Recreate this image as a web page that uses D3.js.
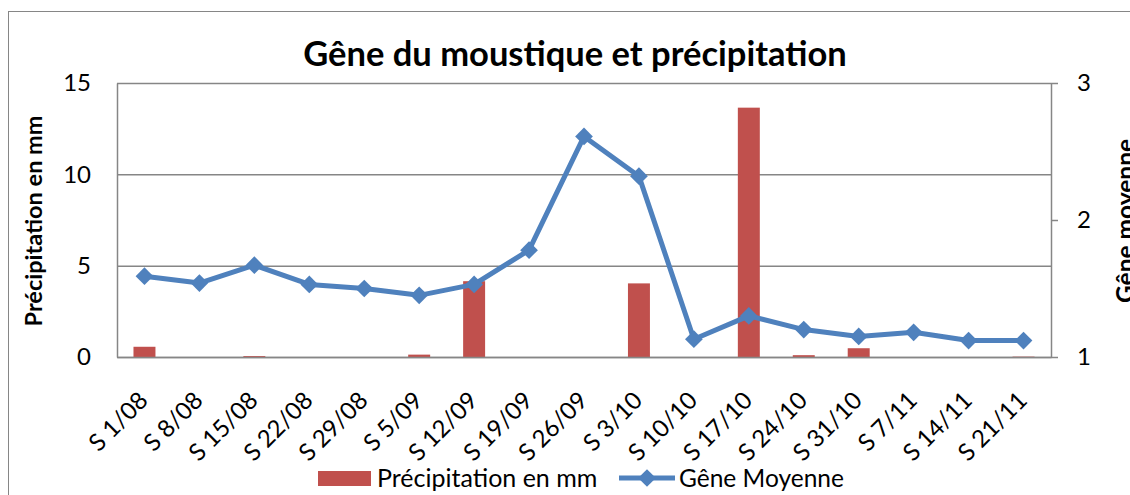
<!DOCTYPE html>
<html>
<head>
<meta charset="utf-8">
<script src="https://cdn.jsdelivr.net/npm/d3@7"></script>
<style>
  body { margin: 0; background: #fff; }
  svg { display: block; font-family: Lato, "Open Sans", sans-serif; }
</style>
</head>
<body>
<svg id="svg" width="1130" height="495"></svg>
<script>
const weeks = ["S 1/08","S 8/08","S 15/08","S 22/08","S 29/08","S 5/09","S 12/09","S 19/09",
  "S 26/09","S 3/10","S 10/10","S 17/10","S 24/10","S 31/10","S 7/11","S 14/11","S 21/11"];
const rain = [0.56, 0, 0.05, 0, 0, 0.13, 4.15, 0, 0, 4.03, 0, 13.65, 0.1, 0.48, 0, 0, 0.02];
const gene = [1.59, 1.54, 1.67, 1.53, 1.50, 1.45, 1.53, 1.78, 2.61, 2.32, 1.13, 1.30, 1.20, 1.15, 1.18, 1.12, 1.12];
const leftTicks = [0, 5, 10, 15];
const rightTicks = [1, 2, 3];

const svg = d3.select("#svg");
const width = 1130, height = 495;
const margin = {top: 83, left: 117, right: 79, bottom: 138};
const innerWidth = width - margin.left - margin.right;
const innerHeight = height - margin.top - margin.bottom;

const red = "#C0504D", blue = "#4F81BD", grey = "#868686";
const font = "Lato, 'Open Sans', sans-serif";

// chart border (partly off-screen, like the cropped original)
svg.append("rect")
  .attr("x", 8.5).attr("y", 11.5).attr("width", 1200).attr("height", 600)
  .attr("fill", "none").attr("stroke", grey).attr("stroke-width", 1);

const xScale = d3.scaleBand().domain(weeks).range([0, innerWidth]);
const yLeft = d3.scaleLinear().domain([0, 15]).range([innerHeight, 0]);
const yRight = d3.scaleLinear().domain([1, 3]).range([innerHeight, 0]);

const g = svg.append("g").attr("transform", `translate(${margin.left},${margin.top})`);

// gridlines
g.append("g").call(d3.axisLeft(yLeft).tickValues(leftTicks).tickSize(-innerWidth).tickFormat(""))
  .call(a => a.select(".domain").remove())
  .selectAll("line").attr("stroke", grey).attr("stroke-width", 1.5);

// left axis
const leftAxis = g.append("g").call(d3.axisLeft(yLeft).tickValues(leftTicks).tickSize(0).tickPadding(26))
  .attr("font-family", font);
leftAxis.select(".domain").attr("stroke", grey).attr("stroke-width", 1.5);
leftAxis.selectAll("text").attr("font-size", 24).attr("fill", "#000");

// right axis
const rightAxis = g.append("g").attr("transform", `translate(${innerWidth},0)`)
  .call(d3.axisRight(yRight).tickValues(rightTicks).tickFormat(d3.format("d"))
    .tickSize(7).tickPadding(19).tickSizeOuter(0))
  .attr("font-family", font);
rightAxis.select(".domain").attr("stroke", grey).attr("stroke-width", 1.5);
rightAxis.selectAll("line").attr("stroke", grey).attr("stroke-width", 1.5);
rightAxis.selectAll("text").attr("font-size", 24).attr("fill", "#000");

// bars
g.selectAll("rect.bar").data(weeks).enter().append("rect")
  .attr("class", "bar")
  .attr("x", d => xScale(d) + xScale.bandwidth() * 0.3)
  .attr("width", xScale.bandwidth() * 0.4)
  .attr("y", (d, i) => yLeft(rain[i]))
  .attr("height", (d, i) => innerHeight - yLeft(rain[i]))
  .attr("fill", red);

// bottom axis
const xAxis = g.append("g").attr("transform", `translate(0,${innerHeight})`)
  .call(d3.axisBottom(xScale).tickSize(0).tickSizeOuter(0))
  .attr("font-family", font);
xAxis.select(".domain").attr("stroke", grey).attr("stroke-width", 1.5);
xAxis.selectAll("text")
  .attr("font-size", 24).attr("fill", "#000")
  .attr("text-anchor", "end")
  .attr("dy", 0).attr("y", 0)
  .attr("transform", "translate(5,45) rotate(-45)");

// line
const cx = d => xScale(d) + xScale.bandwidth() / 2;
g.append("path").datum(weeks)
  .attr("fill", "none").attr("stroke", blue).attr("stroke-width", 5)
  .attr("stroke-linejoin", "round")
  .attr("d", d3.line().x(cx).y((d, i) => yRight(gene[i])));

const diamond = d3.symbol().type(d3.symbolDiamond2).size(200);
g.selectAll("path.dot").data(weeks).enter().append("path")
  .attr("class", "dot")
  .attr("d", diamond)
  .attr("transform", (d, i) => `translate(${cx(d)},${yRight(gene[i])})`)
  .attr("fill", blue);

// titles
svg.append("text").attr("x", 575).attr("y", 66).attr("text-anchor", "middle")
  .attr("font-size", 34.5).attr("font-weight", "bold").text("Gêne du moustique et précipitation");

svg.append("text").attr("transform", "translate(42,221) rotate(-90)").attr("text-anchor", "middle")
  .attr("font-size", 23.5).attr("font-weight", "bold").text("Précipitation en mm");

svg.append("text").attr("transform", "translate(1134,221) rotate(-90)").attr("text-anchor", "middle")
  .attr("font-size", 24.5).attr("font-weight", "bold").text("Gêne moyenne");

// legend
const lg = svg.append("g");
lg.append("rect").attr("x", 318).attr("y", 471).attr("width", 53).attr("height", 15).attr("fill", red);
lg.append("text").attr("x", 377).attr("y", 487).attr("font-size", 25).text("Précipitation en mm");
lg.append("line").attr("x1", 619).attr("x2", 675).attr("y1", 478).attr("y2", 478)
  .attr("stroke", blue).attr("stroke-width", 5);
lg.append("path").attr("d", diamond).attr("transform", "translate(647,478)").attr("fill", blue);
lg.append("text").attr("x", 679).attr("y", 487).attr("font-size", 24.5).text("Gêne Moyenne");
</script>
</body>
</html>
